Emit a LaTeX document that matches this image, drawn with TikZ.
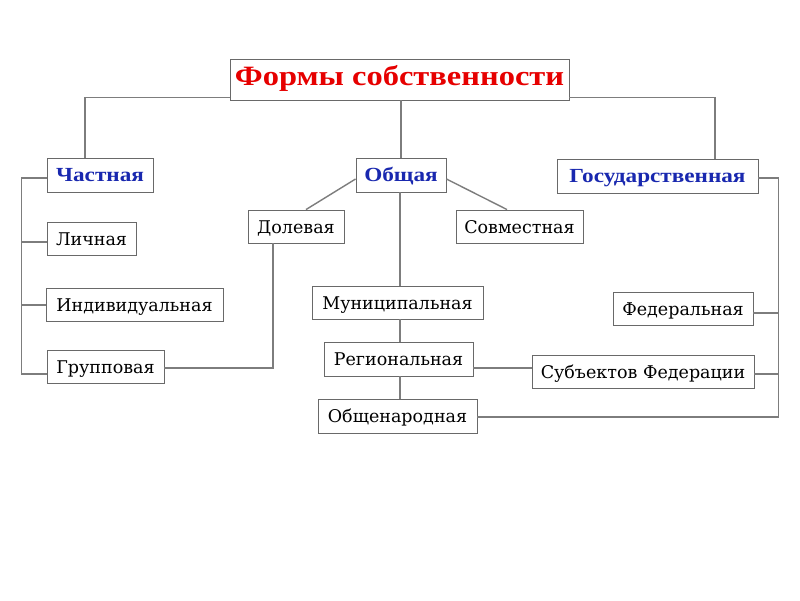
\documentclass[tikz,border=0pt]{standalone}
\usepackage{fontspec}
\setmainfont{DejaVu Serif}
\newfontfamily\headfont[FakeStretch=1.16]{Liberation Serif}
\usetikzlibrary{positioning}

\definecolor{titlered}{RGB}{230,0,0}
\definecolor{kindblue}{RGB}{25,40,175}
\definecolor{linegray}{RGB}{125,125,125}
\definecolor{boxgray}{RGB}{105,105,105}

\begin{document}
\begin{tikzpicture}[
  x=1pt, y=-1pt,
  block/.style = {draw=boxgray, line width=0.9pt, fill=white, minimum height=33pt, inner sep=0pt,
                  text height=14pt, text depth=1pt, font=\fontsize{17.5}{20}\selectfont},
  kind/.style = {block, minimum height=34pt, text=kindblue, text height=13pt, text depth=0pt,
                 font=\fontsize{20}{23}\headfont\bfseries},
  link/.style = {draw=linegray, line width=1.4pt}
  ]
  \useasboundingbox[fill=white] (0,0) rectangle (800,600);

    % Root
  \node[block, minimum width=339pt, minimum height=41pt, text=titlered, text height=19pt, text depth=8pt,
        font=\fontsize{28}{32}\headfont\bfseries] (root) at (399.5,79.5) {Формы собственности};

    % Kinds
  \node[kind, minimum width=106pt] (private) at (100,175) {Частная};
  \node[kind, minimum width=90pt]  (common)  at (401,175) {Общая};
  \node[kind, minimum width=201pt] (state)   at (657.5,176) {Государственная};

    % Common
  \node[block, minimum width=96pt]  (shared) at (296,226.5) {Долевая};
  \node[block, minimum width=127pt] (joint)  at (519.5,226.5) {Совместная};

    % Private
  \node[block, minimum width=89pt]  (personal)   at (91.5,239) {Личная};
  \node[block, minimum width=177pt] (individual) at (134.5,304.5) {Индивидуальная};
  \node[block, minimum width=117pt] (group)      at (105.5,366.5) {Групповая};

    % Public
  \node[block, minimum width=171pt] (municipal) at (397.5,302.5) {Муниципальная};
  \node[block, minimum width=149pt, minimum height=34pt] (regional) at (398.5,359) {Региональная};
  \node[block, minimum width=159pt, minimum height=34pt] (national) at (397.5,416) {Общенародная};

    % State
  \node[block, minimum width=140pt] (federal)  at (683,308.5) {Федеральная};
  \node[block, minimum width=222pt] (subjects) at (643,371.5) {Субъектов Федерации};

    % Connectors
  \draw[link] ([yshift=3pt]root.south west) -| ([xshift=-15pt]private.north);
  \draw[link] ([yshift=3pt]root.south east) -| ([xshift=57.5pt]state.north);
  \draw[link] (root.south -| common.north) -- (common.north);

  \draw[link] ([yshift=-4pt]common.west) -- ([xshift=10pt]shared.north);
  \draw[link] ([yshift=-4pt]common.east) -- ([xshift=-12.5pt]joint.north);
  \draw[link] ([xshift=-1pt]common.south) -- ([xshift=-1pt]common.south |- municipal.north);
  \draw[link] ([xshift=-1pt]common.south |- municipal.south) -- ([xshift=-1pt]common.south |- regional.north);
  \draw[link] ([xshift=-1pt]common.south |- regional.south) -- ([xshift=-1pt]common.south |- national.north);

  \draw[link] ([xshift=-23pt]shared.south) |- ([yshift=-1.5pt]group.east);
  \draw[link] ([yshift=-9pt]regional.east) -- ([yshift=-9pt]regional.east -| subjects.west);

  \draw[link] ([yshift=-3pt]private.west) -- ++(-25pt,0) |- ([yshift=-7.5pt]group.west);
  \draw[link] ([yshift=-3pt]personal.west) -- ++(-25pt,0);
  \draw[link] ([yshift=-0.5pt]individual.west) -- ++(-24pt,0);

  \draw[link] ([yshift=-2pt]state.east) -- ++(20pt,0) |- ([yshift=-1pt]national.east);
  \draw[link] ([yshift=-4.5pt]federal.east) -- ++(25pt,0);
  \draw[link] ([yshift=-2.5pt]subjects.east) -- ++(24pt,0);
\end{tikzpicture}
\end{document}
